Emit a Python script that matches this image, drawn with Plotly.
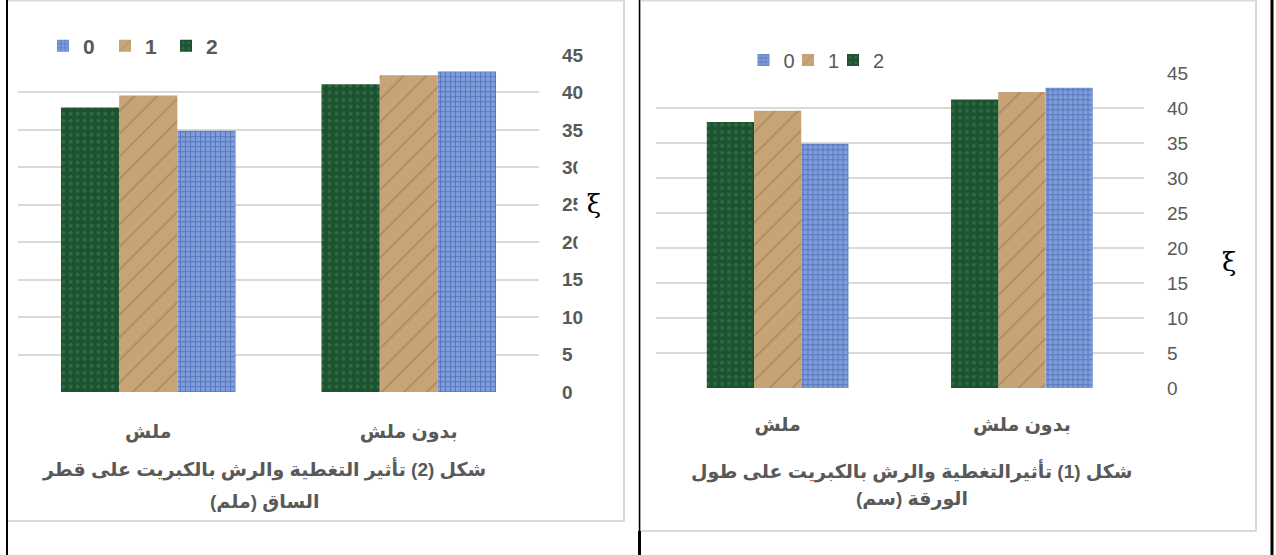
import plotly.graph_objects as go

W, H = 1276, 555

# ---------------- data ----------------
categories = ["بدون ملش", "ملش"]
series_names = ["0", "1", "2"]
y_ticks = [0, 5, 10, 15, 20, 25, 30, 35, 40, 45]

# Figure (2): stem diameter (mm) - left panel
fig2_s0 = [42.8, 34.9]
fig2_s1 = [42.3, 39.6]
fig2_s2 = [41.1, 38.0]

# Figure (1): leaf length (cm) - right panel
fig1_s0 = [42.9, 34.9]
fig1_s1 = [42.3, 39.6]
fig1_s2 = [41.2, 38.0]

title2_lines = ["شكل (2) تأثير التغطية والرش بالكبريت على قطر", "الساق (ملم)"]
title1_lines = ["شكل (1) تأثيرالتغطية والرش بالكبريت على طول", "الورقة (سم)"]

# ---------------- styles ----------------
GREY = "#595959"
GRID = "#d9d9d9"
FONT = "Arial, Liberation Sans, DejaVu Sans, sans-serif"
RLM = "\u200f"

styles = {
    "0": dict(color="#7f9ddb", pattern=dict(shape="+", fgcolor="#2d4f9a", size=5, solidity=0.35, fillmode="overlay")),
    "1": dict(color="#c7a378", pattern=dict(shape="/", fgcolor="#94704a", size=16, solidity=0.1, fillmode="overlay")),
    "2": dict(color="#1c5230", pattern=dict(shape=".", fgcolor="#3f8254", size=7, solidity=0.25, fillmode="overlay")),
}


def px_x(p):
    return p / W


def px_y(p):
    return 1 - p / H


Y_LO, Y_HI = -0.05, 45.1


def dom(top45, bottom0):
    ppu = (bottom0 - top45) / 45.0
    return [px_y(bottom0 - Y_LO * ppu), px_y(top45 - (Y_HI - 45) * ppu)]


fig = go.Figure()

# one legend box per entry so that the entries sit exactly like the original
panels = [
    dict(vals=[fig2_s0, fig2_s1, fig2_s2], xa="x", ya="y", group=0.67,
         legends=["legend", "legend2", "legend3"], leg_x=[43, 105, 166], leg_y=46,
         leg_font=dict(size=21, color=GREY, weight="bold")),
    dict(vals=[fig1_s0, fig1_s1, fig1_s2], xa="x2", ya="y2", group=0.58,
         legends=["legend4", "legend5", "legend6"], leg_x=[743.5, 788, 833], leg_y=60,
         leg_font=dict(size=20, color=GREY)),
]

legend_layout = {}
for p in panels:
    w = p["group"] / 3
    for i, (name, vals) in enumerate(zip(series_names, p["vals"])):
        st = styles[name]
        fig.add_trace(go.Bar(
            x=categories, y=vals, name=name,
            xaxis=p["xa"], yaxis=p["ya"], legend=p["legends"][i],
            width=w, offset=-1.5 * w + i * w,
            marker=dict(color=st["color"], pattern=st["pattern"], line=dict(width=0)),
            hoverinfo="skip",
        ))
        legend_layout[p["legends"][i]] = dict(
            orientation="h", x=px_x(p["leg_x"][i]), y=px_y(p["leg_y"]),
            xanchor="left", yanchor="middle", font=p["leg_font"],
            bgcolor="rgba(0,0,0,0)", itemclick=False, itemdoubleclick=False)

common_x = dict(type="category", categoryorder="array", categoryarray=categories,
                autorange="reversed", showgrid=False, zeroline=False, showline=False,
                ticks="", fixedrange=True)
common_y = dict(range=[Y_LO, Y_HI], tickvals=y_ticks, side="right", showgrid=True,
                gridcolor=GRID, gridwidth=1.5, zeroline=False, showline=False,
                ticks="", ticklabelstandoff=22, fixedrange=True)

fig.update_layout(
    width=W, height=H,
    margin=dict(l=0, r=0, t=0, b=0, autoexpand=False),
    paper_bgcolor="white", plot_bgcolor="white",
    barmode="overlay",
    font=dict(family=FONT, color=GREY),
    xaxis=dict(domain=[px_x(18), px_x(539)], anchor="y",
               tickfont=dict(size=19, color=GREY, weight="bold"), ticklabelstandoff=26, **common_x),
    yaxis=dict(domain=dom(55, 392), anchor="x",
               tickfont=dict(size=19, color=GREY, weight="bold"), **common_y),
    xaxis2=dict(domain=[px_x(655.5), px_x(1144)], anchor="y2",
                tickfont=dict(size=19, color=GREY, weight="bold"), ticklabelstandoff=23, **common_x),
    yaxis2=dict(domain=dom(73, 388), anchor="x2",
                tickfont=dict(size=19, color=GREY), **common_y),
    showlegend=True,
    **legend_layout,
)

shapes = [
    dict(type="rect", xref="paper", yref="paper", x0=px_x(7), x1=px_x(624), y0=px_y(521), y1=px_y(0.5),
         line=dict(color="#d9d9d9", width=2), fillcolor="rgba(0,0,0,0)", layer="below"),
    dict(type="rect", xref="paper", yref="paper", x0=px_x(640), x1=px_x(1256), y0=px_y(531), y1=px_y(0.5),
         line=dict(color="#d9d9d9", width=2), fillcolor="rgba(0,0,0,0)", layer="below"),
    dict(type="line", xref="paper", yref="paper", x0=px_x(7), x1=px_x(7), y0=0, y1=1,
         line=dict(color="black", width=2)),
    dict(type="line", xref="paper", yref="paper", x0=px_x(639.5), x1=px_x(639.5), y0=px_y(531), y1=1,
         line=dict(color="black", width=1.5)),
    dict(type="line", xref="paper", yref="paper", x0=px_x(639.5), x1=px_x(639.5), y0=0, y1=px_y(531),
         line=dict(color="black", width=3)),
    dict(type="line", xref="paper", yref="paper", x0=px_x(1272), x1=px_x(1272), y0=0, y1=1,
         line=dict(color="black", width=3)),
]
fig.update_layout(shapes=shapes)

ann = []
for line, yy in zip(title2_lines, [469, 501]):
    ann.append(dict(text=RLM + line + RLM, x=px_x(264), y=px_y(yy), xref="paper", yref="paper",
                    xanchor="center", yanchor="middle", showarrow=False,
                    font=dict(size=19, color=GREY, weight="bold", family=FONT)))
for line, yy in zip(title1_lines, [471, 499]):
    ann.append(dict(text=RLM + line + RLM, x=px_x(912), y=px_y(yy), xref="paper", yref="paper",
                    xanchor="center", yanchor="middle", showarrow=False,
                    font=dict(size=19, color=GREY, weight="bold", family=FONT)))
ann.append(dict(text="ξ", x=px_x(577), y=px_y(204), xref="paper", yref="paper",
                xanchor="left", yanchor="middle", showarrow=False, bgcolor="white",
                width=30, height=96, align="center",
                font=dict(size=26, color="black", family="DejaVu Serif")))
ann.append(dict(text="ξ", x=px_x(1229), y=px_y(262), xref="paper", yref="paper",
                xanchor="center", yanchor="middle", showarrow=False,
                font=dict(size=26, color="black", family="DejaVu Serif")))
fig.update_layout(annotations=ann)

fig.write_html("out.html")
